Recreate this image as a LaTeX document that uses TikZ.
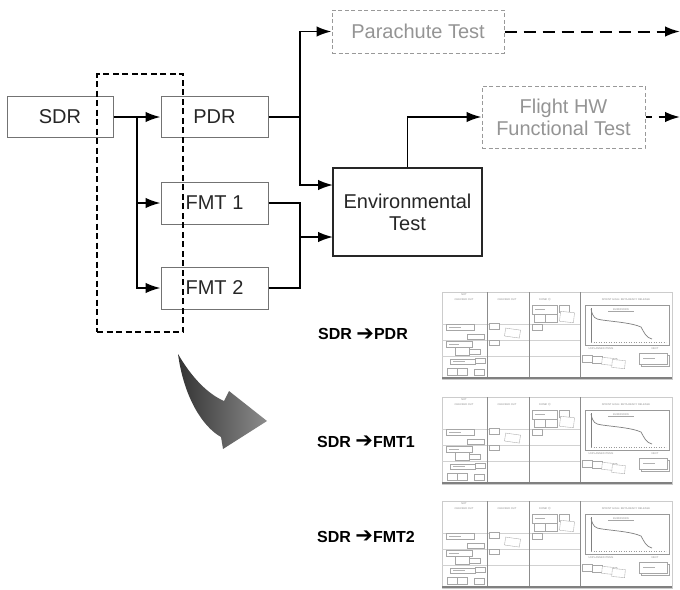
\documentclass[tikz,border=0pt]{standalone}
\usepackage{fontspec}
\setmainfont{Liberation Sans}
\newfontfamily\arrowfont{DejaVu Sans}
\usetikzlibrary{arrows.meta}
\newcommand{\kbtext}[3]{\node[kbtxt] at (#1,#2) {#3};}
\newcommand{\kbnote}[4]{\draw[kbnote] (#1,#2) rectangle (#3,#4);}
\newcommand{\heavyarrow}{{\arrowfont\bfseries\fontsize{21}{18}\selectfont\raisebox{-0.5pt}{➔}}}
\newcommand{\kanbanboard}[2]{%
\begin{scope}[shift={(#1,#2)}]
  \draw[fill=white, draw=black!20, line width=0.4] (0,0) rectangle (230,87);
  \foreach \yy in {32,48,64} {\draw[black!18, line width=0.3] (0,\yy) -- (138,\yy);}
  \foreach \xx in {45,87,138} {\draw[black!45, line width=0.8] (\xx,0) -- (\xx,86);}
  \draw[black!50, line width=1.2] (0,86) -- (230,86);
  \kbtext{22}{2.5}{NOT}
  \kbtext{22}{8}{CHECKED OUT}
  \kbtext{65}{8}{CHECKED OUT}
  \kbtext{103}{8}{DONE! \arrowfont ☺}
  \kbtext{184}{8}{SPRINT GOAL: BETA-READY RELEASE}
  \draw[black!40, line width=0.5] (143,13) rectangle (227,53);
  \kbtext{179}{17.5}{BURNDOWN}
  \draw[black!35, line width=0.3] (166,19.5) -- (192,19.5);
  \draw[black!50, line width=0.6] (149,16) -- (149,50);
  \draw[black!40, line width=0.5, dotted] (149,50) -- (224,50);
  \draw[black!50, line width=0.7] (149,17) .. controls (151,26) and (153,27) .. (160,28)
     .. controls (175,30) and (190,31) .. (199,35) .. controls (202,40) and (204,46) .. (210,47);
  \kbtext{159}{57}{UNPLANNED ITEMS}
  \kbtext{213}{57}{NEXT}
  % sticky notes column 1
  \kbnote{4}{32}{32}{38} \kbnote{25}{42}{42}{47}
  \kbnote{4}{49}{30}{55} \kbnote{13}{55}{27}{63} \kbnote{27}{57}{38}{62}
  \kbnote{8}{67}{33}{72} \kbnote{33}{66}{43}{71}
  \kbnote{5}{76}{15}{83} \kbnote{15}{76}{25}{83} \kbnote{32}{77}{42}{83}
  % column 2
  \kbnote{47}{31}{57}{37}
  \draw[kbnote, rotate around={-8:(70,41)}] (63,37) rectangle (78,45);
  \kbnote{47}{48}{57}{53}
  % column 3
  \kbnote{90}{13}{115}{22} \kbnote{117}{13}{127}{20}
  \kbnote{92}{22}{103}{30} \kbnote{103}{22}{115}{30}
  \draw[kbnote, rotate around={-6:(125,25)}] (118,20) rectangle (132,30);
  \kbnote{90}{32}{100}{38}
  % column 4 bottom
  \kbnote{140}{63}{150}{70} \kbnote{150}{64}{160}{71}
  \draw[kbnote, rotate around={-5:(167,69)}] (160,66) rectangle (175,73);
  \draw[kbnote, rotate around={-5:(176,72)}] (170,68) rectangle (183,76);
  \kbnote{199}{63}{227}{74} \kbnote{197}{61}{225}{72}
  % scribbles
  \foreach \sx/\sy/\sl in {7/35/12, 7/52/10, 11/69/12, 93/17/10, 201/66/12} {\draw[black!30, line width=0.3] (\sx,\sy) -- ++(\sl,0);}
\end{scope}}
\begin{document}
\begin{tikzpicture}[x=1pt, y=-1pt,
  box/.style={draw=black!55, line width=1, minimum width=#1, minimum height=41, inner sep=0, font=\fontsize{20}{23}\selectfont, text=black!85},
  envbox/.style={draw=black!85, line width=1.3, minimum width=149, minimum height=88, inner sep=0, align=center, font=\fontsize{20}{23}\selectfont, text=black!85},
  futbox/.style={draw=black!40, dashed, dash pattern=on 4pt off 2.5pt, line width=1, inner sep=0, align=center, font=\fontsize{20}{23}\selectfont, text=black!42},
  conn/.style={line width=1.8, -{Latex[length=15pt,width=10.5pt]}},
  plain/.style={line width=1.8},
  fconn/.style={line width=2, dash pattern=on 12pt off 7pt, -{Latex[length=15pt,width=10.5pt]}},
  grp/.style={draw=black, line width=2.8, dash pattern=on 6pt off 3.5pt, minimum width=86, minimum height=258, inner sep=0},
  lab/.style={anchor=west, inner sep=0, font=\bfseries\fontsize{16}{18}\selectfont},
  kbtxt/.style={inner sep=0, text=black!45, font=\fontsize{2.6}{3}\selectfont},
  kbnote/.style={draw=black!35, line width=0.35, fill=white},
]
\useasboundingbox (0,0) rectangle (680,589);
% nodes
\node[box=106] (sdr) at (60,117) {SDR};
\node[box=107] (pdr) at (214.5,117) {PDR};
\node[box=107, minimum height=42] (fmt1) at (214.5,203) {FMT 1};
\node[box=107, minimum height=42] (fmt2) at (214.5,288) {FMT 2};
\node[envbox] (env) at (407.5,212) {Environmental\\[-1pt]Test};
\node[futbox, minimum width=172, minimum height=43] (para) at (418,31.5) {Parachute Test};
\node[futbox, minimum width=163, minimum height=62] (flight) at (563.5,117) {Flight HW\\[-1pt]Functional Test};
\node[grp] (grp) at (140,203) {};
% junctions
\coordinate (j1) at (137,117);
\coordinate (j2) at (300,117);
\coordinate (j3) at (300,237);
\coordinate (e1) at (333,185);
\coordinate (e2) at (333,237);
\coordinate (pend) at (680,31.5);
\coordinate (fend) at (680,117);
% connectors
\draw[conn] (sdr.east) -- (pdr.west);
\draw[conn] (j1) |- (fmt1.west);
\draw[conn] (j1) |- (fmt2.west);
\draw[plain] (pdr.east) -- (j2);
\draw[conn] (j2) |- (para.west);
\draw[conn] (j2) |- (e1);
\draw[plain] (fmt1.east) -| (j3);
\draw[plain] (fmt2.east) -| (j3);
\draw[conn] (j3) -- (e2);
\draw[conn] (env.north) |- (flight.west);
\draw[fconn] (para.east) -- (pend);
\draw[fconn, dash pattern=on 6pt off 7pt] (flight.east) -- (fend);
% curved arrow
\shade[left color=black!80, right color=black!45]
  (178,354) .. controls (192,378) and (208,394) .. (224,401) -- (229,391) -- (267,421)
  -- (223,449) -- (221,437) .. controls (203,427) and (184,398) .. (178,354) -- cycle;
% labels
\node[lab] (l1) at (318,334.5) {SDR \heavyarrow PDR};
\node[lab] (l2) at (317,442) {SDR \heavyarrow FMT1};
\node[lab] (l3) at (317,537) {SDR \heavyarrow FMT2};
% boards
\kanbanboard{442}{292}
\kanbanboard{442}{397}
\kanbanboard{442}{501}
\end{tikzpicture}
\end{document}
